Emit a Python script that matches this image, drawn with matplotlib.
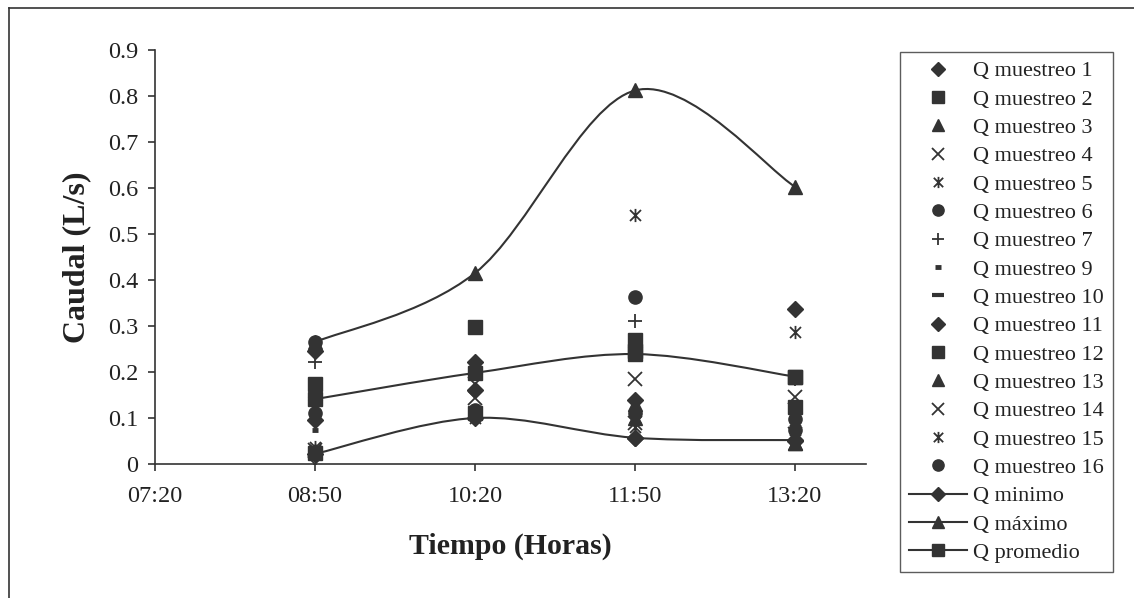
import matplotlib.pyplot as plt
import numpy as np
from matplotlib.path import Path
from matplotlib.patches import PathPatch
from matplotlib.lines import Line2D

plt.rcParams["font.family"] = ["Liberation Serif", "DejaVu Serif"]

# sampling times and flow values (L/s)
times = ["08:50", "10:20", "11:50", "13:20"]
tick_labels = ["07:20", "08:50", "10:20", "11:50", "13:20"]

q1 = [0.245, 0.222, 0.140, 0.337]
q2 = [0.175, 0.298, 0.270, 0.190]
q3 = [0.160, 0.212, 0.130, 0.045]
q4 = [0.000, 0.175, 0.185, 0.146]
q5 = [0.037, 0.205, 0.541, 0.288]
q6 = [0.265, 0.117, 0.363, 0.098]
q7 = [0.222, 0.200, 0.311, 0.185]
q9 = [0.073, 0.110, 0.120, 0.120]
q10 = [0.140, 0.190, 0.240, 0.180]
q11 = [0.095, 0.160, 0.057, 0.050]
q12 = [0.025, 0.110, 0.245, 0.124]
q13 = [0.155, 0.210, 0.100, 0.045]
q14 = [0.030, 0.143, 0.090, 0.065]
q15 = [0.030, 0.100, 0.080, 0.073]
q16 = [0.110, 0.105, 0.110, 0.073]

q_min = [0.022, 0.100, 0.057, 0.052]
q_max = [0.265, 0.415, 0.812, 0.603]
q_prom = [0.141, 0.198, 0.239, 0.190]


def to_min(s):
    h, m = s.split(":")
    return int(h) * 60 + int(m)


x = [to_min(t) for t in times]
xt = [to_min(t) for t in tick_labels]

ink = "#333333"

# excel style asterisk (x with a vertical bar)
star = Path(
    [(-1, -1), (1, 1), (-1, 1), (1, -1), (0, -1.2), (0, 1.2)],
    [Path.MOVETO, Path.LINETO, Path.MOVETO, Path.LINETO, Path.MOVETO, Path.LINETO],
)

styles = [
    ("Q muestreo 1", q1, dict(marker="D", ms=8)),
    ("Q muestreo 2", q2, dict(marker="s", ms=9.5)),
    ("Q muestreo 3", q3, dict(marker="^", ms=10.5)),
    ("Q muestreo 4", q4, dict(marker="x", ms=9.5, mew=1.3, mfc="none")),
    ("Q muestreo 5", q5, dict(marker=star, ms=9.5, mew=1.3, mfc="none")),
    ("Q muestreo 6", q6, dict(marker="o", ms=9.5)),
    ("Q muestreo 7", q7, dict(marker="+", ms=10.5, mew=1.3)),
    ("Q muestreo 9", q9, dict(marker="_", ms=5, mew=3.5)),
    ("Q muestreo 10", q10, dict(marker="_", ms=10, mew=3)),
    ("Q muestreo 11", q11, dict(marker="D", ms=8)),
    ("Q muestreo 12", q12, dict(marker="s", ms=9.5)),
    ("Q muestreo 13", q13, dict(marker="^", ms=10.5)),
    ("Q muestreo 14", q14, dict(marker="x", ms=9.5, mew=1.3, mfc="none")),
    ("Q muestreo 15", q15, dict(marker=star, ms=9.5, mew=1.3, mfc="none")),
    ("Q muestreo 16", q16, dict(marker="o", ms=9.5)),
]


def smooth_path(xs, ys):
    pts = np.column_stack([xs, ys]).astype(float)
    n = len(pts)
    verts = [pts[0]]
    codes = [Path.MOVETO]
    for i in range(n - 1):
        p0 = pts[max(i - 1, 0)]
        p1 = pts[i]
        p2 = pts[i + 1]
        p3 = pts[min(i + 2, n - 1)]
        verts += [p1 + (p2 - p0) / 6, p2 - (p3 - p1) / 6, p2]
        codes += [Path.CURVE4] * 3
    return Path(verts, codes)


fig = plt.figure(figsize=(11.34, 5.98), dpi=100)
ax = fig.add_axes([155 / 1134, 1 - 464 / 598, 711 / 1134, 414 / 598])

handles = []
for label, vals, kw in styles:
    (h,) = ax.plot(x, vals, ls="none", color=ink, mec=ink, label=label, zorder=3, **kw)
    handles.append(h)

for label, vals, mk, ms in [
    ("Q minimo", q_min, "D", 8),
    ("Q máximo", q_max, "^", 10.5),
    ("Q promedio", q_prom, "s", 9.5),
]:
    ax.add_patch(PathPatch(smooth_path(x, vals), fill=False, ec=ink, lw=1.5, zorder=2))
    ax.plot(x, vals, ls="none", marker=mk, ms=ms, color=ink, zorder=3)
    handles.append(Line2D([], [], color=ink, lw=1.5, marker=mk, ms=ms, label=label))

ax.set_xlim(440, 840)
ax.set_ylim(0, 0.9)
ax.set_xticks(xt)
ax.set_xticklabels(tick_labels)
ax.set_yticks(np.arange(0, 0.95, 0.1))
ax.set_yticklabels(["0"] + [f"{v:.1f}" for v in np.arange(0.1, 0.95, 0.1)])
for s in ["top", "right"]:
    ax.spines[s].set_visible(False)
for s in ["left", "bottom"]:
    ax.spines[s].set_color(ink)
    ax.spines[s].set_linewidth(1.2)
ax.tick_params(axis="both", colors=ink, labelcolor="#222222", labelsize=17.5, length=5, width=1.2)
ax.tick_params(axis="y", pad=7)
ax.tick_params(axis="x", pad=11)

ax.set_xlabel("Tiempo (Horas)", fontsize=21.5, fontweight="bold", color="#222222", labelpad=18)
ax.set_ylabel("Caudal (L/s)", fontsize=23, fontweight="bold", color="#222222", labelpad=12)

leg = fig.legend(
    handles=handles,
    loc="upper left",
    bbox_to_anchor=(900 / 1134, 1 - 52 / 598),
    fontsize=16,
    frameon=True,
    fancybox=False,
    borderaxespad=0,
    borderpad=0.4,
    labelspacing=0.35,
    handlelength=2.6,
    handletextpad=0.3,
    markerscale=0.85,
)
leg.get_frame().set_edgecolor(ink)
leg.get_frame().set_linewidth(1.0)
for t in leg.get_texts():
    t.set_color("#222222")

# chart area border
fig.add_artist(Line2D([9 / 1134, 9 / 1134], [0, 1 - 8 / 598], color=ink, lw=1.2))
fig.add_artist(Line2D([9 / 1134, 1], [1 - 8 / 598, 1 - 8 / 598], color=ink, lw=1.2))

fig.savefig("out.png", dpi=100)
